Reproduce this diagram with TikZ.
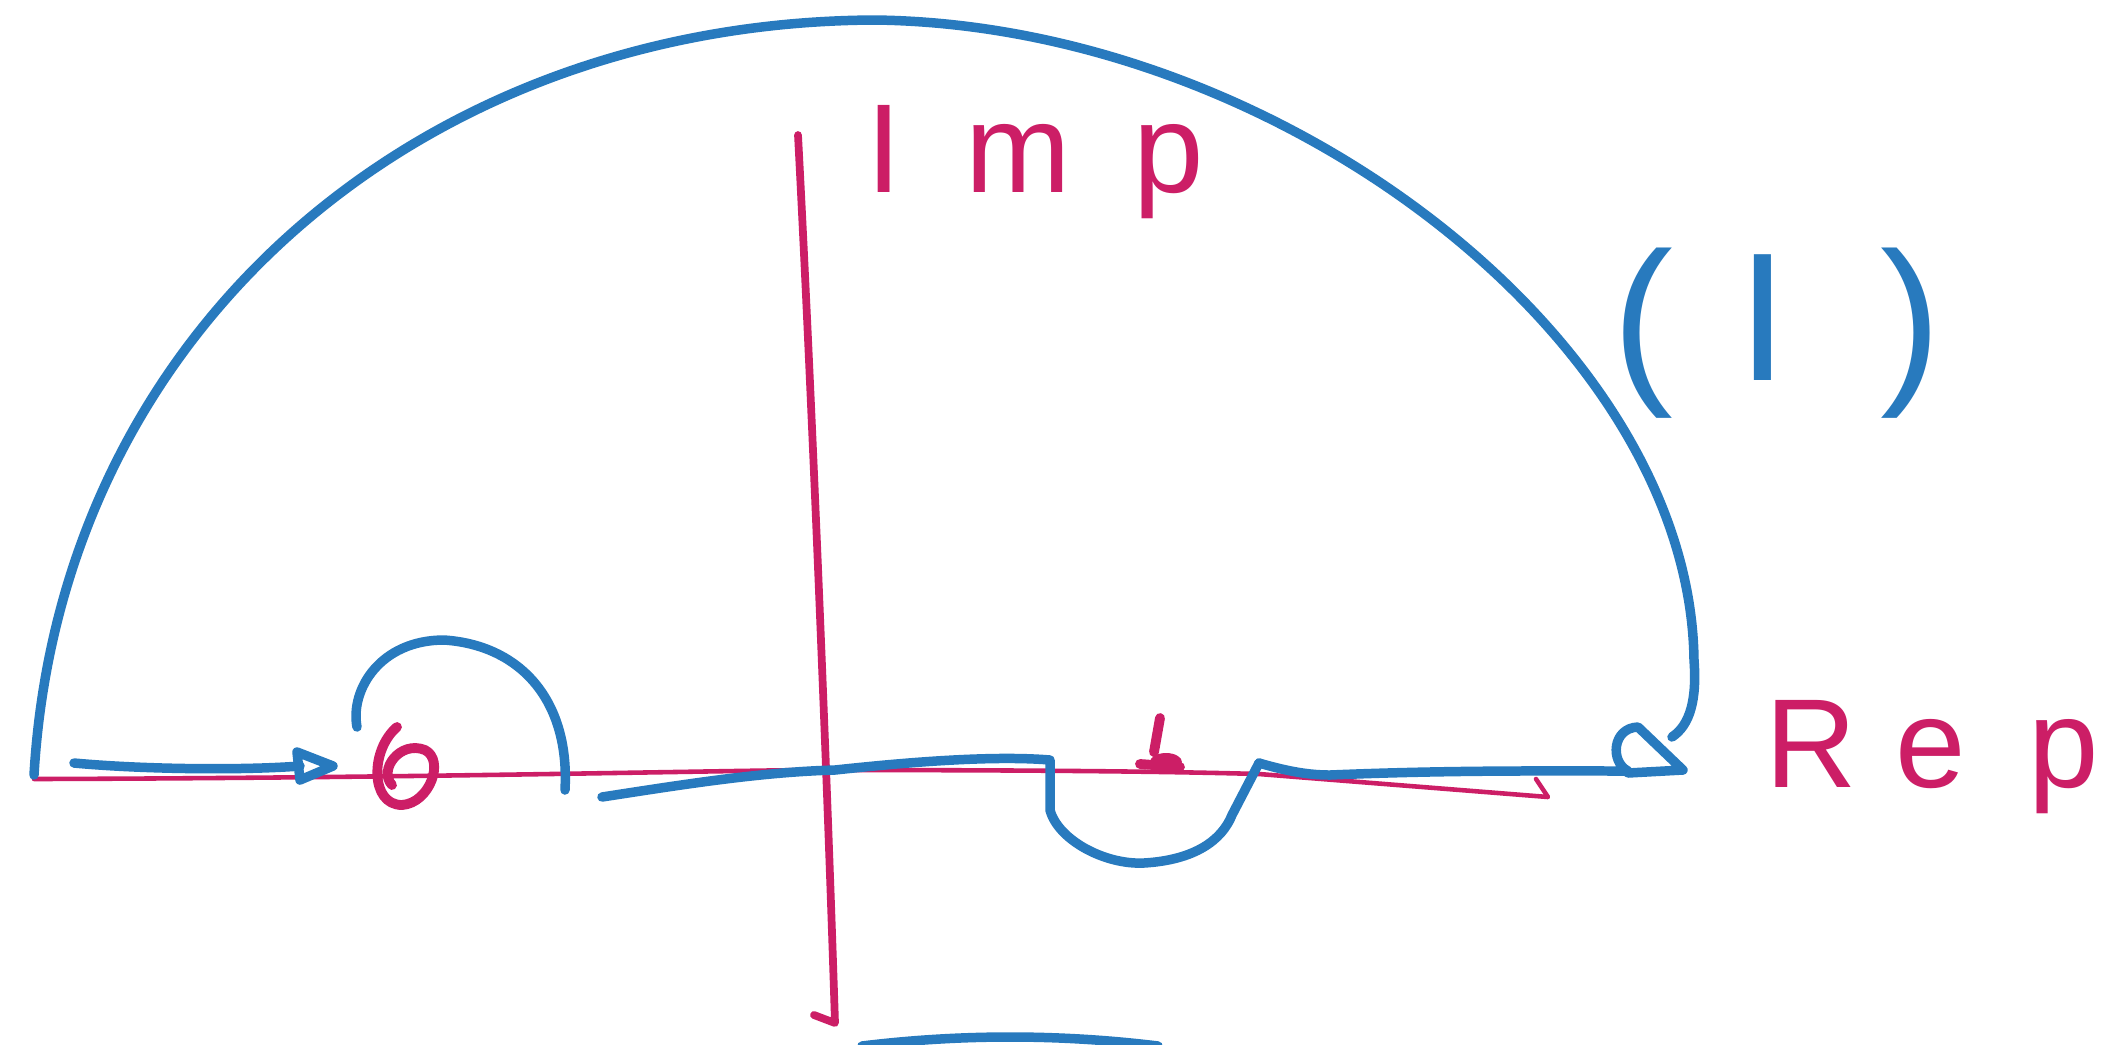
\documentclass[tikz,border=0pt]{standalone}
\usepackage{fontspec}
\setmainfont{Liberation Sans}
\definecolor{pen blue}{RGB}{40,122,190}
\definecolor{pen pink}{RGB}{204,30,102}
\tikzset{
  bluepen/.style={draw=pen blue, line width=2.7pt, line cap=round, line join=round},
  pinkpen/.style={draw=pen pink, line width=1.3pt, line cap=round, line join=round},
  pinkbold/.style={draw=pen pink, line width=2.8pt, line cap=round, line join=round},
  pinklabel/.style={text=pen pink, font=\fontsize{36}{40}\selectfont, inner sep=0pt},
  bluelabel/.style={text=pen blue, font=\fontsize{52}{56}\selectfont, inner sep=0pt}
}
\begin{document}
\begin{tikzpicture}[x=0.01cm,y=-0.01cm]
\useasboundingbox (0,0) rectangle (2111,1044);
\fill[white] (0,0) rectangle (2111,1044);

% axes
\draw[pinkpen] (34,779) .. controls (400,778) and (700,771) .. (808,770)
  .. controls (1000,770) and (1150,771) .. (1259,774) -- (1548,797) -- (1536,779);
\draw[pinkpen, line width=2.2pt] (798,135) .. controls (812,400) and (828,800) .. (835,1023) -- (814,1015);

% big contour arc
\draw[bluepen] (34,775) .. controls (60,330) and (420,22) .. (875,20)
  .. controls (1280,25) and (1690,340) .. (1694,660)
  .. controls (1697,700) and (1690,725) .. (1672,737);

% right loop / arrow
\draw[bluepen] (1259,763) .. controls (1290,772) and (1310,775) .. (1330,775)
  .. controls (1450,770) and (1550,771) .. (1628,771)
  .. controls (1610,762) and (1612,728) .. (1638,727) -- (1683,770) -- (1628,773);

% left arrow along the real axis
\draw[bluepen] (74,763) .. controls (150,770) and (250,770) .. (300,766);
\draw[bluepen] (297,752) -- (333,766) -- (300,780) -- cycle;

% small semicircle above the left pole
\draw[bluepen] (357,727) .. controls (350,690) and (380,640) .. (444,640)
  .. controls (520,645) and (570,700) .. (565,790);

% axis segment with the dip below the right pole
\draw[bluepen] (602,797) .. controls (680,785) and (760,772) .. (835,770)
  .. controls (900,763) and (990,755) .. (1050,760) -- (1050,810)
  .. controls (1058,840) and (1105,865) .. (1144,863)
  .. controls (1195,860) and (1222,840) .. (1232,815) -- (1259,763);

% poles
\draw[pinkbold] (397,727) .. controls (370,750) and (370,805) .. (402,805)
  .. controls (430,803) and (445,760) .. (425,750)
  .. controls (400,740) and (378,770) .. (392,785);
\draw[pinkbold] (1160,718) -- (1154,752);
\fill[pen pink] (1166,762) ellipse (16 and 9);
\draw[pinkbold] (1140,764) -- (1180,767);

% stroke cut by the bottom edge
\draw[bluepen] (862,1046) .. controls (960,1034) and (1060,1034) .. (1158,1046);

% labels
\node[pinklabel, anchor=base west] (imp) at (866,192) {I\hspace{0.5em}m\hspace{0.5em}p};
\node[pinklabel, anchor=base west] (rep) at (1765,787) {R\hspace{0.3em}e\hspace{0.5em}p};
\node[bluelabel] (one) at (1777,333) {(\hspace{0.35em}I\hspace{0.5em})};
\end{tikzpicture}
\end{document}
